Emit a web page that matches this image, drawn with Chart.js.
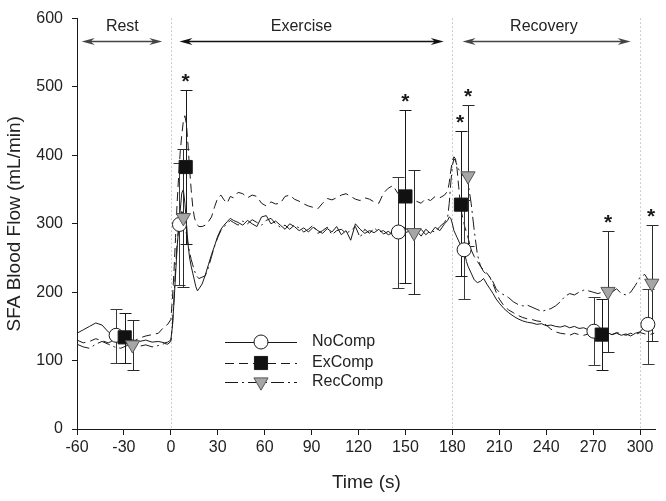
<!DOCTYPE html>
<html>
<head>
<meta charset="utf-8">
<script src="https://cdn.jsdelivr.net/npm/chart.js@4.4.1/dist/chart.umd.min.js"></script>
<style>
  html, body { margin: 0; padding: 0; background: #fff; }
  canvas { display: block; }
</style>
</head>
<body>
<canvas id="flow" width="666" height="501"></canvas>
<script>
// Time base (s) shared by the three continuous traces
const traceTime = [-60,-56,-52,-48,-44,-40,-36,-32,-28,-24,-20,-16,-12,-8,-4,-2,0,
  1,2,3,4,5,6,7,8,9,10,11,12,13,14,15,16,17,18,
  20,22,24,26,28,30,32,34,36,38,40,
  43,46,49,52,55,58,61,64,67,70,73,76,79,82,85,88,91,94,97,100,103,106,109,112,115,118,121,124,127,130,133,136,139,142,145,148,151,154,157,160,163,166,169,172,175,
  177,178,179,180,181,182,183,184,185,186,187,188,189,190,
  192,194,196,198,200,202,204,206,208,210,
  213,216,219,222,225,228,231,234,237,240,243,246,249,252,255,258,261,264,267,270,273,276,279,282,285,288,291,294,297,300,303,306,309];

// Continuous traces (mL/min)
const noCompTrace = [140,145,150,155,152,142,136,134,132,130,128,130,127,128,126,127,130,
  150,185,225,265,295,320,345,350,330,300,270,250,238,228,218,208,202,205,
  212,225,240,255,268,282,292,298,303,308,305,
  302,298,305,300,296,310,312,300,304,298,292,300,296,290,294,288,295,290,286,293,288,296,284,290,276,300,292,286,290,287,292,285,289,284,288,296,292,285,290,282,292,286,295,290,300,
  305,310,308,300,290,285,280,275,270,265,262,255,245,238,
  228,218,214,216,220,212,205,198,190,184,
  176,170,165,161,158,156,155,153,154,151,152,150,149,151,148,150,147,148,145,143,142,140,141,138,140,137,139,136,140,142,150,152,148];
const exCompTrace = [130,126,128,132,129,126,130,134,131,128,133,136,138,140,150,153,160,
  190,230,280,330,370,405,430,450,458,445,415,380,350,325,310,302,298,296,
  296,298,303,310,325,338,342,335,330,340,338,
  346,344,338,342,340,330,326,332,329,330,340,342,336,333,329,326,324,322,330,337,335,338,342,344,340,336,334,338,336,332,330,345,352,356,345,338,341,336,333,330,337,334,340,338,342,
  348,360,378,392,398,395,380,355,330,315,305,295,288,280,
  262,252,245,238,232,228,222,212,200,190,
  180,174,170,166,163,161,160,158,157,152,146,142,140,139,137,140,138,137,139,138,137,139,140,138,141,139,137,140,138,141,139,138,140];
const recCompTrace = [124,120,118,124,128,124,120,118,122,125,121,123,120,122,125,124,128,
  150,190,235,270,295,310,318,315,300,285,270,258,248,240,232,226,222,220,
  222,224,236,252,268,280,290,296,300,305,302,
  298,304,300,306,302,298,305,308,300,295,298,292,298,294,288,292,298,286,290,295,284,290,292,286,290,296,280,292,286,294,288,290,284,287,290,285,288,290,286,292,284,290,288,296,302,
  310,330,360,385,395,392,385,380,375,372,370,368,366,360,
  330,290,255,238,230,226,222,215,205,200,
  196,192,186,182,180,181,178,175,172,174,176,180,186,194,198,196,200,203,202,200,198,200,202,200,205,198,196,200,210,222,226,215,210];

// Group means and SD limits at sampled times
const noCompT  = [-35, 5.5, 145.5, 187.5, 270.5, 305];
const noCompV  = [137, 299, 288, 262, 143, 153];
const noCompHi = [176, 389, 369, 335, 193, 205];
const noCompLo = [97, 210, 206, 190, 93, 95];

const exCompT  = [-29.5, 9.5, 150, 185.5, 275.5];
const exCompV  = [134, 383, 340, 328, 138];
const exCompHi = [169, 496, 466, 436, 190];
const exCompLo = [96, 271, 213, 223, 86];

const recCompT  = [-24.5, 8, 155.5, 190, 279.5, 307.5];
const recCompV  = [123, 309, 287, 370, 201, 213];
const recCompHi = [159, 409, 378, 474, 289, 298];
const recCompLo = [86, 208, 198, 268, 113, 128];

// Significance markers (placed over the upper SD cap)
const starT = [9.5, 150, 185, 190, 279.5, 307];
const starV = [496, 466, 436, 474, 289, 298];

const xTicks = [-60, -30, 0, 30, 60, 90, 120, 150, 180, 210, 240, 270, 300];
const yTicks = [0, 100, 200, 300, 400, 500, 600];

// Protocol phases
const phaseLines = [0, 180, 300];
const phaseNames = ['Rest', 'Exercise', 'Recovery'];
const phaseFrom = [-57, 5.5, 186.5];
const phaseTo = [-5.5, 174.5, 294];
const phaseLabelAt = [-31, 83.5, 238.5];
const phaseArrowV = 567;
const phaseLabelV = 589;

const FONT = "'Liberation Sans', Arial, sans-serif";
const INK = '#1a1a1a';

function pts(ts, vs) {
  return ts.map((t, i) => ({ x: t, y: vs[i] }));
}

const errorGroups = [
  { t: noCompT, hi: noCompHi, lo: noCompLo, color: '#3a3a3a' },
  { t: exCompT, hi: exCompHi, lo: exCompLo, color: INK },
  { t: recCompT, hi: recCompHi, lo: recCompLo, color: '#2a2a2a' },
];

function drawErrorBars(chart) {
  const { ctx, scales: { x, y } } = chart;
  ctx.save();
  ctx.lineWidth = 1;
  errorGroups.forEach(g => {
    ctx.strokeStyle = g.color;
    g.t.forEach((t, i) => {
      const px = Math.round(x.getPixelForValue(t)) + 0.5;
      const yh = Math.round(y.getPixelForValue(g.hi[i])) + 0.5;
      const yl = Math.round(y.getPixelForValue(g.lo[i])) + 0.5;
      ctx.beginPath();
      ctx.moveTo(px, yh); ctx.lineTo(px, yl);
      ctx.moveTo(px - 6, yh); ctx.lineTo(px + 6, yh);
      ctx.moveTo(px - 6, yl); ctx.lineTo(px + 6, yl);
      ctx.stroke();
    });
  });
  ctx.restore();
}

function arrowHead(ctx, x, y, dir) {
  ctx.beginPath();
  ctx.moveTo(x, y);
  ctx.lineTo(x - dir * 13, y - 3.5);
  ctx.lineTo(x - dir * 9, y);
  ctx.lineTo(x - dir * 13, y + 3.5);
  ctx.closePath();
  ctx.fill();
}

function drawPhases(chart) {
  const { ctx, scales: { x, y } } = chart;
  ctx.save();
  const ay = Math.round(y.getPixelForValue(phaseArrowV)) + 0.5;
  const ly = y.getPixelForValue(phaseLabelV);
  phaseNames.forEach((name, i) => {
    const x1 = x.getPixelForValue(phaseFrom[i]);
    const x2 = x.getPixelForValue(phaseTo[i]);
    const col = i === 1 ? '#111' : '#444';
    ctx.strokeStyle = col;
    ctx.fillStyle = col;
    ctx.lineWidth = 1.3;
    ctx.beginPath();
    ctx.moveTo(x1 + 6, ay); ctx.lineTo(x2 - 6, ay);
    ctx.stroke();
    arrowHead(ctx, x1, ay, -1);
    arrowHead(ctx, x2, ay, 1);
    ctx.fillStyle = '#222';
    ctx.font = '16px ' + FONT;
    ctx.textAlign = 'center';
    ctx.textBaseline = 'middle';
    ctx.fillText(name, x.getPixelForValue(phaseLabelAt[i]), ly);
  });
  ctx.restore();
}

function drawStars(chart) {
  const { ctx, scales: { x, y } } = chart;
  ctx.save();
  ctx.fillStyle = INK;
  ctx.font = 'bold 21px ' + FONT;
  ctx.textAlign = 'center';
  ctx.textBaseline = 'alphabetic';
  starT.forEach((t, i) => {
    ctx.fillText('*', x.getPixelForValue(t), y.getPixelForValue(starV[i]) - 2);
  });
  ctx.restore();
}

function drawLegend(chart) {
  const { ctx } = chart;
  const rows = [
    { line: chart.data.datasets[0], mark: chart.data.datasets[3], y: 342 },
    { line: chart.data.datasets[1], mark: chart.data.datasets[4], y: 363 },
    { line: chart.data.datasets[2], mark: chart.data.datasets[5], y: 382 },
  ];
  ctx.save();
  rows.forEach(r => {
    ctx.strokeStyle = r.line.borderColor;
    ctx.lineWidth = 1;
    ctx.setLineDash(r.line.borderDash || []);
    ctx.beginPath();
    ctx.moveTo(225, r.y + 0.5); ctx.lineTo(297, r.y + 0.5);
    ctx.stroke();
    ctx.setLineDash([]);
    ctx.fillStyle = r.mark.pointBackgroundColor;
    ctx.strokeStyle = r.mark.pointBorderColor;
    ctx.lineWidth = r.mark.pointBorderWidth;
    Chart.helpers.drawPoint(ctx, {
      pointStyle: r.mark.pointStyle,
      radius: r.mark.pointRadius,
      rotation: r.mark.pointRotation || 0,
      borderWidth: r.mark.pointBorderWidth,
    }, 261, r.y);
    ctx.fillStyle = '#222';
    ctx.font = '16px ' + FONT;
    ctx.textAlign = 'left';
    ctx.textBaseline = 'middle';
    ctx.fillText(r.mark.label, 312, r.y);
  });
  ctx.restore();
}

const overlay = {
  id: 'overlay',
  beforeDatasetsDraw(chart) {
    const { ctx, chartArea: a, scales: { x } } = chart;
    chart.$barsDrawn = false;
    ctx.save();
    ctx.strokeStyle = '#a0a0a0';
    ctx.lineWidth = 1;
    ctx.setLineDash([1, 3]);
    phaseLines.forEach(t => {
      const px = Math.round(x.getPixelForValue(t)) + 0.5;
      ctx.beginPath();
      ctx.moveTo(px, a.top); ctx.lineTo(px, a.bottom);
      ctx.stroke();
    });
    ctx.restore();
  },
  beforeDatasetDraw(chart, args) {
    if (chart.$barsDrawn || !chart.data.datasets[args.index].isMarker) return;
    chart.$barsDrawn = true;
    drawErrorBars(chart);
  },
  afterDatasetsDraw(chart) {
    drawPhases(chart);
    drawStars(chart);
    drawLegend(chart);
  },
};

const traceStyle = { borderColor: INK, borderWidth: 1, pointRadius: 0, tension: 0, fill: false };
const markStyle = { showLine: false, pointBorderWidth: 1, pointBorderColor: INK, clip: false, isMarker: true };

new Chart(document.getElementById('flow'), {
  type: 'line',
  data: {
    datasets: [
      { ...traceStyle, label: 'NoComp', data: pts(traceTime, noCompTrace), order: 10 },
      { ...traceStyle, label: 'ExComp', data: pts(traceTime, exCompTrace), borderDash: [9, 5], order: 11 },
      { ...traceStyle, label: 'RecComp', data: pts(traceTime, recCompTrace), borderDash: [13, 4, 2, 4], order: 12 },
      { ...markStyle, label: 'NoComp', data: pts(noCompT, noCompV), pointStyle: 'circle', pointRadius: 7, pointBackgroundColor: '#fff', order: 3 },
      { ...markStyle, label: 'ExComp', data: pts(exCompT, exCompV), pointStyle: 'rect', pointRadius: 9.3, pointBackgroundColor: '#111', order: 2 },
      { ...markStyle, label: 'RecComp', data: pts(recCompT, recCompV), pointStyle: 'triangle', pointRotation: 180, pointRadius: 8.2, pointBackgroundColor: '#a6a6a6', pointBorderColor: '#555', order: 1 },
    ],
  },
  options: {
    responsive: false,
    animation: false,
    devicePixelRatio: 1,
    layout: { padding: { top: 9, right: 4, left: 0, bottom: 0 } },
    plugins: { legend: { display: false }, tooltip: { enabled: false } },
    scales: {
      x: {
        type: 'linear',
        min: -60,
        max: 310,
        afterBuildTicks: s => { s.ticks = xTicks.map(v => ({ value: v })); },
        afterFit: s => { s.height = 72; },
        grid: { display: true, drawOnChartArea: false, tickLength: 6, color: INK },
        border: { display: true, color: INK, width: 1 },
        ticks: { color: '#222', font: { family: FONT, size: 16 }, padding: 3, maxRotation: 0 },
        title: { display: true, text: 'Time (s)', color: '#222', font: { family: FONT, size: 19 }, padding: { top: 0, bottom: 7 } },
      },
      y: {
        type: 'linear',
        min: 0,
        max: 600,
        afterBuildTicks: s => { s.ticks = yTicks.map(v => ({ value: v })); },
        afterFit: s => { s.width = 77; },
        grid: { display: true, drawOnChartArea: false, tickLength: 5, color: INK },
        border: { display: true, color: INK, width: 1 },
        ticks: { color: '#222', font: { family: FONT, size: 16 }, padding: 9 },
        title: { display: true, text: 'SFA Blood Flow (mL/min)', color: '#222', font: { family: FONT, size: 19 }, padding: { top: 3, bottom: 0 } },
      },
    },
  },
  plugins: [overlay],
});
</script>
</body>
</html>
